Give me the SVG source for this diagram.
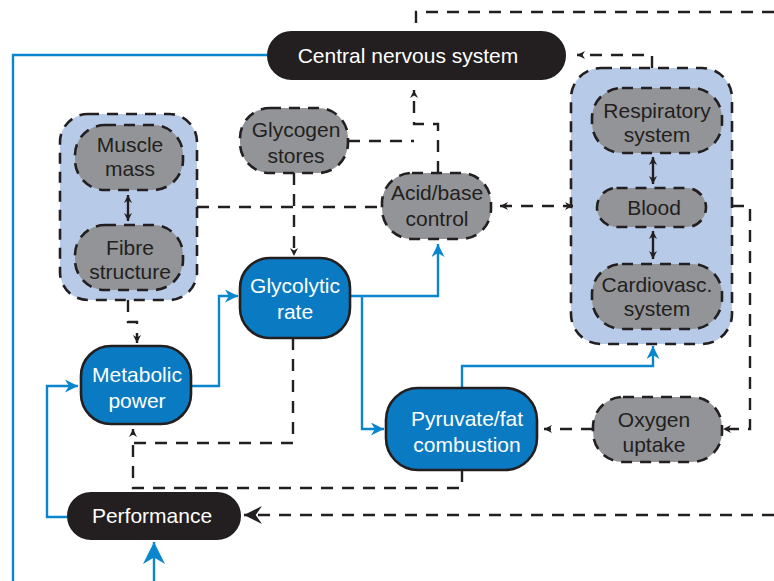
<svg xmlns="http://www.w3.org/2000/svg" width="774" height="581" viewBox="0 0 774 581">
<style>
.grp{fill:#b7cbe8;stroke:#231f20;stroke-width:2.6;stroke-dasharray:11 8}
.gray{fill:#929497;stroke:#231f20;stroke-width:2.6;stroke-dasharray:11 8}
.blue{fill:#0a7bc2;stroke:#231f20;stroke-width:2.6}
.blk{fill:#231f20;stroke:#231f20;stroke-width:2}
.dash{fill:none;stroke:#231f20;stroke-width:2.4;stroke-dasharray:12 9}
.bl{fill:none;stroke:#0a86cf;stroke-width:2.4}
text{font-family:"Liberation Sans",Arial,Helvetica,sans-serif;font-size:21px;text-anchor:middle}
.w{fill:#ffffff}
.d{fill:#231f20}
</style>
<defs>
<marker id="ak" viewBox="0 0 10 10" refX="10" refY="5" markerWidth="9" markerHeight="8" markerUnits="userSpaceOnUse" orient="auto-start-reverse">
<path d="M0,0 L10,5 L0,10 L3,5 Z" fill="#231f20"/>
</marker>
<marker id="ab" viewBox="0 0 10 10" refX="10" refY="5" markerWidth="17" markerHeight="13" markerUnits="userSpaceOnUse" orient="auto">
<path d="M0,0 L10,5 L0,10 L3,5 Z" fill="#0a86cf"/>
</marker>
<marker id="abig" viewBox="0 0 10 10" refX="10" refY="5" markerWidth="27" markerHeight="22" markerUnits="userSpaceOnUse" orient="auto">
<path d="M0,0 L10,5 L0,10 L3,5 Z" fill="#0a86cf"/>
</marker>
<marker id="achev" viewBox="0 0 10 10" refX="10" refY="5" markerWidth="23" markerHeight="18" markerUnits="userSpaceOnUse" orient="auto">
<path d="M0,0 L10,5 L0,10 L3.5,5 Z" fill="#231f20"/>
</marker>
</defs>

<g id="group-muscle"><rect class="grp" x="60" y="114" width="137" height="186" rx="28"/></g>
<g id="group-cardio"><rect class="grp" x="571" y="68" width="161" height="276" rx="30"/></g>

<g id="connectors">
<path class="bl" d="M268,55 H13 V581"/>
<path class="bl" d="M154,581 V542" marker-end="url(#abig)"/>
<path class="bl" d="M68,517 H47 V386 H78" marker-end="url(#ab)"/>
<path class="bl" d="M191,386 H219 V296 H238" marker-end="url(#ab)"/>
<path class="bl" d="M350,296 H438 V244" marker-end="url(#ab)"/>
<path class="bl" d="M362,296 V429 H384" marker-end="url(#ab)"/>
<path class="bl" d="M462,388 V366 H653 V346" marker-end="url(#ab)"/>

<path class="dash" d="M774,12 H416 V32"/>
<path class="dash" d="M348,141 H414"/>
<path class="dash" d="M438,173 V124 H414 V90" marker-end="url(#ak)"/>
<path class="dash" d="M197,207 H383"/>
<path class="dash" d="M294,173 V256" marker-end="url(#ak)"/>
<path class="dash" d="M128,300 V322 H137 V343" marker-end="url(#ak)"/>
<path class="dash" d="M293,338 V443 H133 V429" marker-end="url(#ak)"/>
<path class="dash" d="M462,470 V488 H133 V443"/>
<path class="dash" d="M774,515 H244" marker-end="url(#achev)"/>
<path class="dash" d="M652,68 V55 H577" marker-end="url(#ak)"/>
<path class="dash" d="M500,206 H573" marker-start="url(#ak)" marker-end="url(#ak)"/>
<path class="dash" d="M732,206 H750 V429 H723" marker-end="url(#ak)"/>
<path class="dash" d="M593,429 H544" marker-end="url(#ak)"/>

<path fill="none" stroke="#231f20" stroke-width="2.4" d="M128,195 V221" marker-start="url(#ak)" marker-end="url(#ak)"/>
<path fill="none" stroke="#231f20" stroke-width="2.4" d="M653,157 V184" marker-start="url(#ak)" marker-end="url(#ak)"/>
<path fill="none" stroke="#231f20" stroke-width="2.4" d="M653,231 V259" marker-start="url(#ak)" marker-end="url(#ak)"/>
</g>

<g id="cns"><rect class="blk" x="268" y="32" width="297" height="47" rx="23.5"/><text class="w" x="408" y="63">Central nervous system</text></g>
<g id="muscle-mass"><rect class="gray" x="75" y="125" width="108" height="65" rx="30"/><text class="d" x="130" y="152">Muscle</text><text class="d" x="130" y="176">mass</text></g>
<g id="fibre-structure"><rect class="gray" x="75" y="225" width="108" height="65" rx="30"/><text class="d" x="130" y="255">Fibre</text><text class="d" x="130" y="279">structure</text></g>
<g id="glycogen-stores"><rect class="gray" x="240" y="108" width="108" height="65" rx="30"/><text class="d" x="296" y="137">Glycogen</text><text class="d" x="296" y="163">stores</text></g>
<g id="acid-base"><rect class="gray" x="382" y="173" width="109" height="66" rx="30"/><text class="d" x="437" y="200">Acid/base</text><text class="d" x="437" y="226">control</text></g>
<g id="glycolytic-rate"><rect class="blue" x="240" y="258" width="110" height="80" rx="30"/><text class="w" x="295" y="293">Glycolytic</text><text class="w" x="295" y="319">rate</text></g>
<g id="metabolic-power"><rect class="blue" x="81" y="346" width="110" height="78" rx="30"/><text class="w" x="137" y="382">Metabolic</text><text class="w" x="137" y="408">power</text></g>
<g id="pyruvate"><rect class="blue" x="386" y="388" width="151" height="82" rx="32"/><text class="w" x="467" y="426">Pyruvate/fat</text><text class="w" x="467" y="452">combustion</text></g>
<g id="respiratory"><rect class="gray" x="592" y="88" width="130" height="65" rx="30"/><text class="d" x="657" y="118">Respiratory</text><text class="d" x="657" y="142">system</text></g>
<g id="blood"><rect class="gray" x="597" y="188" width="109" height="39" rx="19.5"/><text class="d" x="654" y="215">Blood</text></g>
<g id="cardiovasc"><rect class="gray" x="592" y="264" width="130" height="65" rx="30"/><text class="d" x="657" y="292">Cardiovasc.</text><text class="d" x="657" y="316">system</text></g>
<g id="oxygen-uptake"><rect class="gray" x="593" y="397" width="129" height="65" rx="30"/><text class="d" x="654" y="427">Oxygen</text><text class="d" x="654" y="452">uptake</text></g>
<g id="performance"><rect class="blk" x="68" y="493" width="172" height="46" rx="23"/><text class="w" x="152" y="523">Performance</text></g>
</svg>
